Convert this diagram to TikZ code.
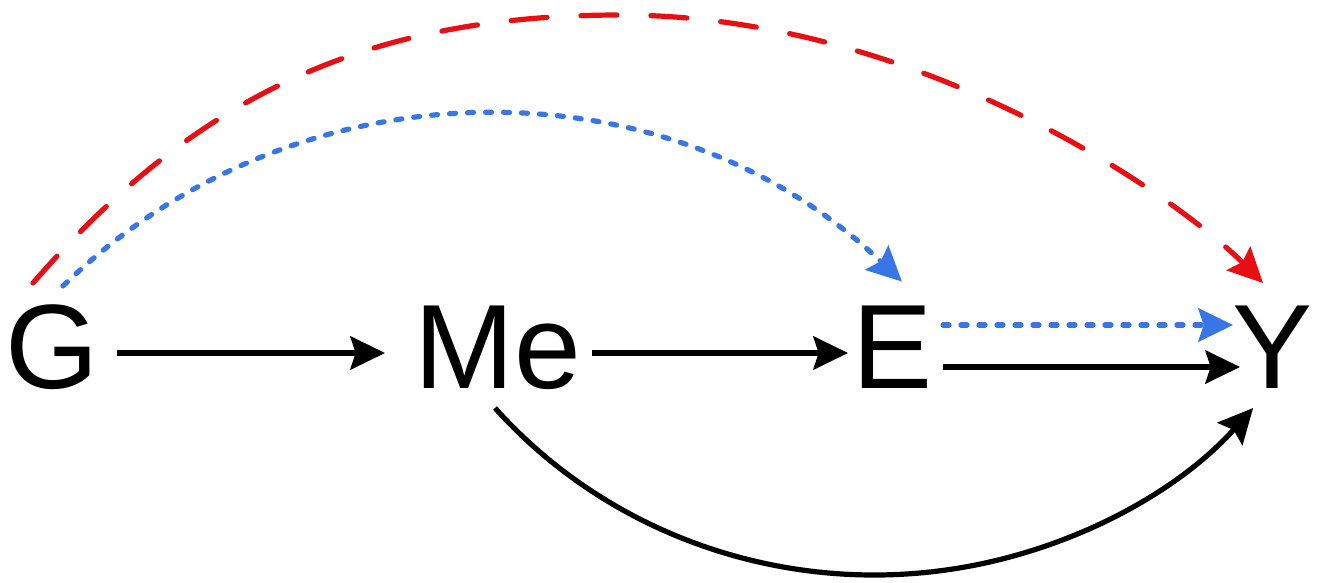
\documentclass[tikz,border=0pt]{standalone}
\usepackage{fontspec}
\setmainfont{Liberation Sans}
\usetikzlibrary{arrows.meta,calc}
\definecolor{cred}{RGB}{232,14,20}
\definecolor{cblue}{RGB}{56,118,232}
\tikzset{
  lbl/.style={inner sep=0pt, outer sep=0pt, anchor=base, font=\fontsize{90}{90}\selectfont},
  tipA/.style={-{Stealth[length=26pt,width=25pt,inset=4pt]}},
  blk/.style={line width=3.9pt, tipA},
  redarc/.style={cred, line width=3.9pt, line cap=round, dash pattern=on 27pt off 25.5pt, tipA},
  bluedot/.style={cblue, line width=3.9pt, line cap=round, dash pattern=on 4.5pt off 9pt, tipA}
}
\begin{document}
\begin{tikzpicture}[x=0.75pt,y=-0.75pt]
\useasboundingbox[fill=white] (0,0) rectangle (1319,582);
\node[lbl] (G) at (52.5,388) {G};
\node[lbl] (Me) at (498,388) {Me};
\node[lbl] (E) at (893,388) {E};
\node[lbl] (Y) at (1272,388) {Y};
\coordinate (rtop) at (620,15);
% straight arrows
\draw[blk] ($(G.base)+(64,-35)$) -- ($(Me.base)+(-113,-35)$);
\draw[blk] ($(Me.base)+(94,-35)$) -- ($(E.base)+(-45,-35)$);
\draw[blk] ($(E.base)+(50,-21)$) -- ($(Y.base)+(-32,-21)$);
\draw[bluedot] ($(E.base)+(50,-63)$) -- ($(Y.base)+(-39,-63)$);
% curved Me -> Y
\draw[blk] ($(Me.base)+(-3,20)$) arc[start angle=139.3, end angle=40.7, x radius=500, y radius=480];
% blue arc G -> E
\draw[bluedot] ($(G.base)+(10.5,-102)$) arc[start angle=-134.2, end angle=-46.4, radius=605];
% red arc G -> Y
\draw[redarc] ($(G.base)+(-19.5,-105)$) .. controls (197,94) and (370,15) .. (rtop)
  .. controls (920,15) and (1178,198) .. ($(Y.base)+(-9,-105)$);
\end{tikzpicture}
\end{document}
